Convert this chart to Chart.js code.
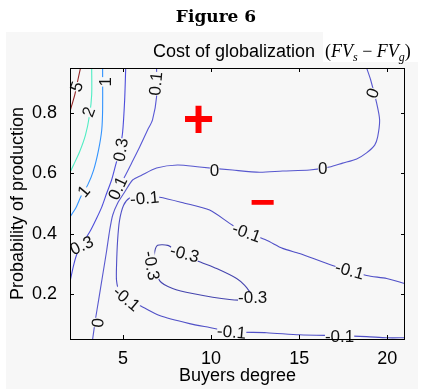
<!DOCTYPE html>
<html>
<head>
<meta charset="utf-8">
<script src="https://cdn.jsdelivr.net/npm/chart.js@4.4.0/dist/chart.umd.min.js"></script>
<style>
html, body { margin: 0; padding: 0; background: #fff; }
canvas { display: block; }
</style>
</head>
<body>
<canvas id="chart" width="429" height="389"></canvas>
<script>
const figureLabel = 'Figure 6';
const titleText = 'Cost of globalization';
const xTitle = 'Buyers degree';
const yTitle = 'Probability of production';
const xTicks = [5, 10, 15, 20];
const yTicks = [0.2, 0.4, 0.6, 0.8];

// contour lines, [x, y] pairs
const c5 = [[2.60,0.951],[2.45,0.911],[2.26,0.858],[2.09,0.824],[1.98,0.801]];
const c2 = [[3.23,0.951],[3.23,0.861],[3.11,0.794],[2.88,0.728],[2.54,0.671],[2.20,0.628],[1.98,0.601]];
const c1 = [[3.85,0.951],[3.85,0.811],[3.80,0.744],[3.62,0.678],[3.34,0.611],[3.00,0.561],[2.66,0.528],[2.32,0.484],[1.98,0.454]];
const c03 = [[5.16,0.951],[5.10,0.844],[4.98,0.734],[4.81,0.678],[4.59,0.628],[4.36,0.578],[4.08,0.534],[3.80,0.488],[3.51,0.451],[3.17,0.411],[2.83,0.378],[2.43,0.338],[2.20,0.294],[1.98,0.234]];
const c01 = [[6.91,0.951],[6.91,0.854],[6.68,0.778],[6.40,0.744],[5.95,0.688],[5.49,0.634],[5.21,0.601],[4.87,0.564],[4.64,0.531]];
const c0 = [[18.82,0.951],[19.05,0.911],[19.39,0.834],[19.56,0.778],[19.45,0.721],[19.28,0.694],[18.82,0.668],[18.26,0.648],[17.46,0.634],[16.72,0.621],[15.59,0.611],[14.06,0.608],[12.75,0.604],[11.22,0.611],[9.35,0.621],[8.10,0.628],[6.91,0.618],[6.06,0.594],[5.55,0.578],[5.10,0.538],[4.70,0.501],[4.42,0.461],[4.25,0.411],[4.08,0.344],[3.85,0.261],[3.62,0.178],[3.45,0.118],[3.28,0.048]];
const cm01 = [[20.98,0.234],[19.96,0.251],[18.82,0.261],[16.89,0.294],[15.02,0.334],[14.06,0.351],[13.15,0.378],[12.02,0.404],[11.22,0.428],[9.92,0.478],[8.50,0.501],[7.08,0.521],[5.95,0.524],[5.38,0.518],[5.04,0.494],[4.81,0.444],[4.70,0.378],[4.64,0.294],[4.64,0.244],[4.81,0.204],[5.21,0.178],[5.95,0.161],[7.08,0.128],[8.78,0.101],[9.92,0.088],[11.17,0.074],[13.15,0.071],[15.02,0.064],[17.29,0.061],[18.82,0.058],[19.96,0.054],[20.98,0.054]];
const cm03 = [[12.31,0.198],[11.91,0.228],[11.45,0.251],[10.32,0.284],[9.18,0.311],[8.05,0.344],[7.54,0.361],[6.97,0.361],[6.80,0.338],[6.80,0.304],[7.08,0.244],[7.82,0.218],[8.95,0.201],[11.05,0.181],[11.91,0.181],[12.31,0.198]];

const contours = [
  { level: '5', pts: c5, color: 'rgba(128,0,0,0.85)' },
  { level: '2', pts: c2, color: 'rgba(61,235,190,0.9)' },
  { level: '1', pts: c1, color: 'rgba(0,122,255,0.8)' },
  { level: '0.3', pts: c03, color: 'rgba(20,20,210,0.75)' },
  { level: '0.1', pts: c01, color: 'rgba(20,20,200,0.7)' },
  { level: '0', pts: c0, color: 'rgba(20,20,190,0.7)' },
  { level: '-0.1', pts: cm01, color: 'rgba(15,15,180,0.72)' },
  { level: '-0.3', pts: cm03, color: 'rgba(10,10,150,0.75)' }
];

// inline labels: text, x, y, angle
const contourLabels = [
  ['5', 2.37, 0.888, -70], ['2', 3.05, 0.804, -70], ['1', 4.02, 0.904, -90], ['1', 2.77, 0.541, -50],
  ['0.1', 6.85, 0.898, -85], ['0.3', 4.87, 0.678, -80], ['0.1', 4.70, 0.551, -65], ['-0.1', 6.23, 0.518, -5],
  ['0.3', 2.66, 0.361, -25], ['0', 10.2, 0.611, 0], ['0', 16.33, 0.618, 0], ['0', 19.16, 0.867, -70],
  ['-0.1', 12.02, 0.404, 20], ['-0.1', 17.86, 0.278, 15], ['-0.3', 8.5, 0.334, 15], ['-0.3', 6.63, 0.294, 80],
  ['-0.3', 12.36, 0.188, 0], ['-0.1', 5.21, 0.184, 40], ['0', 3.57, 0.104, -85], ['-0.1', 11.17, 0.074, 5],
  ['-0.1', 17.29, 0.058, 0]
];
const signs = [['+', 9.29, 0.771, 'bold 54px "Liberation Sans"'], ['\u2212', 12.92, 0.494, 'bold 44px "Liberation Sans"']];

const decor = {
  id: 'decor',
  beforeDraw(chart) {
    const c = chart.ctx;
    c.save();
    c.fillStyle = '#fff';
    c.fillRect(0, 0, chart.width, chart.height);
    c.fillStyle = '#f7f7f7';
    c.fillRect(6, 32, 412, 357);
    c.fillStyle = '#fff';
    c.fillRect(323, 32, 106, 30);
    c.restore();
  },
  afterDatasetsDraw(chart) {
    const c = chart.ctx, xs = chart.scales.x, ys = chart.scales.y, a = chart.chartArea;
    c.save();
    c.font = '17px "Liberation Sans"';
    c.textAlign = 'center';
    c.textBaseline = 'middle';
    contourLabels.forEach(([t, x, y, ang]) => {
      const w = c.measureText(t).width;
      c.save();
      c.translate(xs.getPixelForValue(x), ys.getPixelForValue(y));
      c.rotate(ang * Math.PI / 180);
      c.fillStyle = '#f7f7f7';
      c.fillRect(-w / 2, -5, w, 10);
      c.fillStyle = '#111';
      c.fillText(t, 0, 1);
      c.restore();
    });
    c.fillStyle = '#ff0000';
    signs.forEach(([t, x, y, f]) => {
      c.font = f;
      c.fillText(t, xs.getPixelForValue(x), ys.getPixelForValue(y));
    });
    // box with inward ticks
    c.strokeStyle = '#000';
    c.lineWidth = 1;
    c.strokeRect(a.left + 0.5, a.top + 0.5, a.right - a.left - 1, a.bottom - a.top);
    c.beginPath();
    xTicks.forEach(v => {
      const p = Math.round(xs.getPixelForValue(v)) + 0.5;
      c.moveTo(p, a.bottom); c.lineTo(p, a.bottom - 4);
      c.moveTo(p, a.top); c.lineTo(p, a.top + 4);
    });
    yTicks.forEach(v => {
      const p = Math.round(ys.getPixelForValue(v)) + 0.5;
      c.moveTo(a.left, p); c.lineTo(a.left + 4, p);
      c.moveTo(a.right, p); c.lineTo(a.right - 4, p);
    });
    c.stroke();
    c.restore();
  },
  afterDraw(chart) {
    const c = chart.ctx;
    c.save();
    c.fillStyle = '#000';
    c.textBaseline = 'alphabetic';
    c.textAlign = 'center';
    c.font = 'bold 17px "DejaVu Serif"';
    c.fillText(figureLabel, 216, 22);
    c.textAlign = 'left';
    c.font = '18px "Liberation Sans"';
    c.fillText(titleText, 153, 57);
    let x = 325;
    const seg = (t, f, dy) => { c.font = f; c.fillText(t, x, 57 + dy); x += c.measureText(t).width; };
    const it = 'italic 18px "Liberation Serif"', up = '18px "Liberation Serif"', sub = 'italic 12px "Liberation Serif"';
    seg('(', up, 0); seg('FV', it, 0); seg('s', sub, 4); seg(' \u2212 ', up, 0);
    seg('FV', it, 0); seg('g', sub, 4); seg(')', up, 0);
    c.restore();
  }
};

new Chart(document.getElementById('chart'), {
  type: 'scatter',
  data: {
    datasets: contours.map(cn => ({
      label: cn.level,
      data: cn.pts.map(p => ({ x: p[0], y: p[1] })),
      showLine: true,
      borderColor: cn.color,
      borderWidth: 1.1,
      pointRadius: 0,
      tension: 0.25,
      fill: false
    }))
  },
  options: {
    responsive: false,
    animation: false,
    devicePixelRatio: 1,
    layout: { padding: { left: 7, right: 24, top: 68, bottom: 0 } },
    plugins: { legend: { display: false }, tooltip: { enabled: false } },
    scales: {
      x: {
        type: 'linear', min: 2, max: 21,
        afterBuildTicks: s => { s.ticks = xTicks.map(v => ({ value: v })); },
        afterFit: s => { s.height = 50; },
        grid: { display: false }, border: { display: false },
        ticks: { color: '#000', padding: 1, font: { family: 'Liberation Sans', size: 18 } },
        title: { display: true, text: xTitle, color: '#000', padding: { top: 0, bottom: 2 }, font: { family: 'Liberation Sans', size: 18 } }
      },
      y: {
        type: 'linear', min: 0.05, max: 0.95,
        afterBuildTicks: s => { s.ticks = yTicks.map(v => ({ value: v })); },
        afterFit: s => { s.width = 63; },
        grid: { display: false }, border: { display: false },
        ticks: { color: '#000', padding: 5, callback: v => v.toFixed(1), font: { family: 'Liberation Sans', size: 18 } },
        title: { display: true, text: yTitle, color: '#000', padding: { top: 0, bottom: 0 }, font: { family: 'Liberation Sans', size: 18 } }
      }
    }
  },
  plugins: [decor]
});
</script>
</body>
</html>
